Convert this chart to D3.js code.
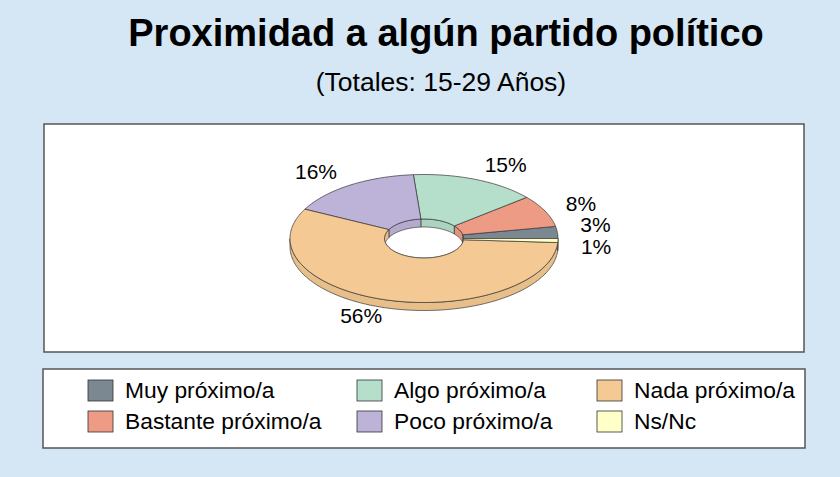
<!DOCTYPE html>
<html>
<head>
<meta charset="utf-8">
<script src="https://cdn.jsdelivr.net/npm/d3@7"></script>
<style>
  body { margin: 0; background: #d5e7f5; }
  svg { display: block; font-family: "Liberation Sans", Arial, sans-serif; }
</style>
</head>
<body>
<script>
// Chart data
const categories = ['Muy próximo/a', 'Bastante próximo/a', 'Algo próximo/a', 'Poco próximo/a', 'Nada próximo/a', 'Ns/Nc'];
const values = [3, 8, 15, 16, 56, 1];
const colors = ['#7b8892', '#ee9b86', '#b5dfca', '#bdb3d9', '#f5c993', '#ffffc8'];
const title = 'Proximidad a algún partido político';
const subtitle = '(Totales: 15-29 Años)';

const width = 840, height = 477;
const cx = 424, cy = 238.5;      // donut centre
const rx = 134, ry = 64;         // outer ellipse
const irx = 39.5, iry = 19.5;    // hole ellipse
const depth = 8;                 // thickness of the disc
const lrx = 157, lry = 80;       // label ellipse
const minGap = 22;               // min vertical distance between labels

const svg = d3.select('body').append('svg')
  .attr('width', width)
  .attr('height', height);

svg.append('rect')
  .attr('width', width).attr('height', height)
  .attr('fill', '#d5e7f5');

svg.append('text')
  .attr('x', 446).attr('y', 46)
  .attr('text-anchor', 'middle')
  .style('font-size', '38px').style('font-weight', 'bold')
  .text(title);

svg.append('text')
  .attr('x', 441).attr('y', 91)
  .attr('text-anchor', 'middle')
  .style('font-size', '26.5px')
  .text(subtitle);

// plot area
svg.append('rect')
  .attr('x', 44).attr('y', 124).attr('width', 760).attr('height', 228)
  .attr('fill', '#fff').attr('stroke', '#555').attr('stroke-width', 1.5);

// pie angles: counter-clockwise from 3 o'clock
const pie = d3.pie().sort(null).value(d => d)
  .startAngle(0).endAngle(2 * Math.PI);
const arcs = pie(values).map((a, i) => ({ ...a, i, mid: (a.startAngle + a.endAngle) / 2 }));

const pt = (t, a, b, dy = 0) => [cx + a * Math.cos(t), cy + dy - b * Math.sin(t)];
const sample = (t0, t1, a, b, dy = 0) => {
  const n = Math.max(2, Math.ceil(Math.abs(t1 - t0) / 0.02));
  return d3.range(n + 1).map(k => pt(t0 + (t1 - t0) * k / n, a, b, dy));
};
const line = d3.line();
const shade = c => d3.color(c).darker(0.15).formatHex();

const g = svg.append('g')
  .attr('stroke', '#333').attr('stroke-width', 0.7).attr('stroke-linejoin', 'round');

// outer side walls (front half)
arcs.forEach(d => {
  const t0 = Math.max(d.startAngle, Math.PI), t1 = Math.min(d.endAngle, 2 * Math.PI);
  if (t1 <= t0) return;
  const pts = sample(t0, t1, rx, ry).concat(sample(t1, t0, rx, ry, depth));
  g.append('path').attr('d', line(pts) + 'Z').attr('fill', shade(colors[d.i]));
});

// inner walls seen through the hole (back half)
g.append('path')
  .attr('d', line(sample(0, 2 * Math.PI, irx, iry)) + 'Z')
  .attr('fill', '#fff');
arcs.forEach(d => {
  const t0 = Math.max(d.startAngle, 0), t1 = Math.min(d.endAngle, Math.PI);
  if (t1 <= t0) return;
  const pts = sample(t0, t1, irx, iry).concat(sample(t1, t0, irx, iry, depth));
  g.append('path').attr('d', line(pts) + 'Z').attr('fill', shade(colors[d.i]));
});

// top faces
arcs.forEach(d => {
  const pts = sample(d.startAngle, d.endAngle, rx, ry)
    .concat(sample(d.endAngle, d.startAngle, irx, iry));
  g.append('path').attr('d', line(pts) + 'Z').attr('fill', colors[d.i]);
});

// percentage labels, anchored away from the pie, spread apart if they collide
const labelPos = arcs.map(d => {
  const c = Math.cos(d.mid);
  return { d, right: c >= 0, x: cx + lrx * c, y: cy - lry * Math.sin(d.mid) };
});
[true, false].forEach(side => {
  const list = labelPos.filter(p => p.right === side).sort((a, b) => a.y - b.y);
  for (let k = 1; k < list.length; k++) {
    const gap = list[k].y - list[k - 1].y;
    if (gap < minGap) {
      const half = (minGap - gap) / 2;
      list[k - 1].y -= half;
      list[k].y += half;
    }
  }
});

svg.append('g').selectAll('text')
  .data(labelPos)
  .enter()
  .append('text')
  .attr('x', p => p.x)
  .attr('y', p => p.y)
  .attr('dy', '0.35em')
  .attr('text-anchor', p => p.right ? 'start' : 'end')
  .style('font-size', '21px')
  .text(p => p.d.data + '%');

// legend
svg.append('rect')
  .attr('x', 43).attr('y', 369).attr('width', 762).attr('height', 79)
  .attr('fill', '#fff').attr('stroke', '#555').attr('stroke-width', 1.5);

const colX = [88, 357, 597];
const rowY = [380, 411];
const legendItems = svg.selectAll('.legend-item')
  .data(categories)
  .enter()
  .append('g')
  .attr('class', 'legend-item')
  .attr('transform', (d, i) => `translate(${colX[Math.floor(i / 2)]},${rowY[i % 2]})`);

legendItems.append('rect')
  .attr('width', 25).attr('height', 21)
  .attr('fill', (d, i) => colors[i])
  .attr('stroke', '#333').attr('stroke-width', 0.8);

legendItems.append('text')
  .attr('x', 37).attr('y', 18)
  .style('font-size', '22.8px')
  .text(d => d);
</script>
</body>
</html>
